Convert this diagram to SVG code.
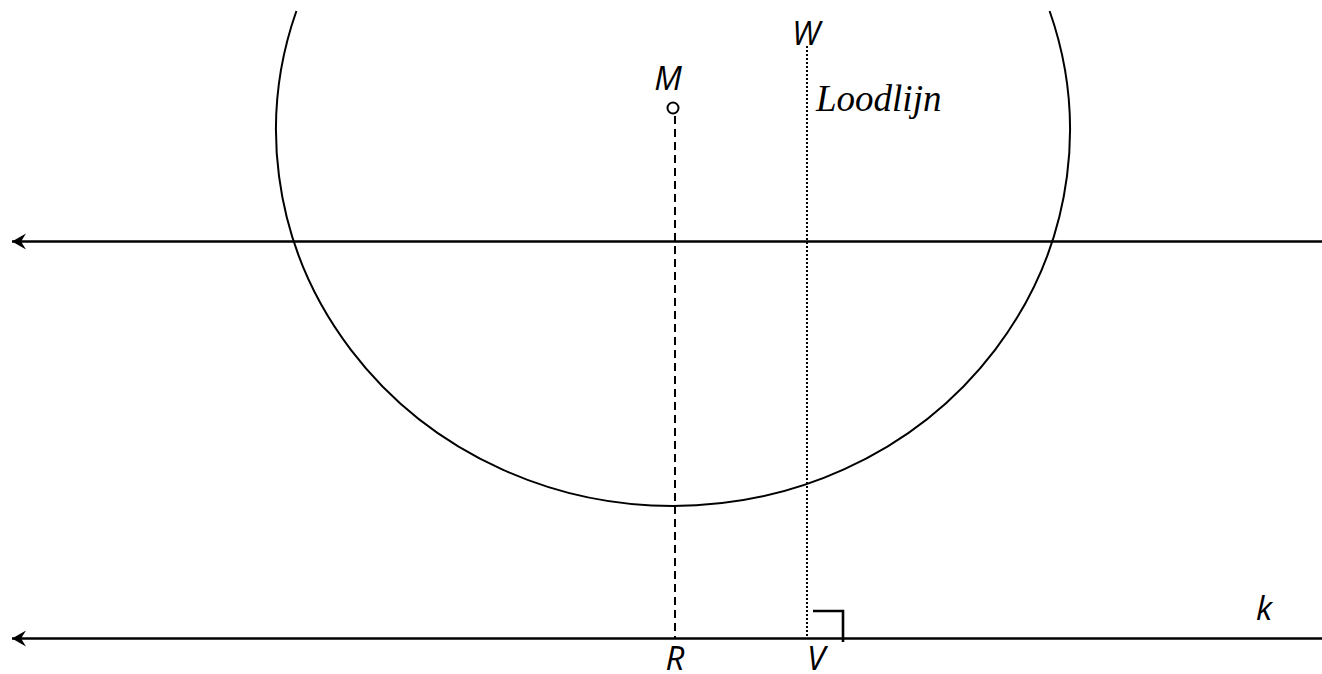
<svg xmlns="http://www.w3.org/2000/svg" width="1322" height="674" viewBox="0 0 1322 674">
<defs>
<style>
.lbl{font-family:"Open Sans","Liberation Sans",sans-serif;font-style:italic;font-size:33px;fill:#000}
.ser{font-family:"Liberation Serif","Times New Roman",serif;font-style:italic;font-size:37px;fill:#000}
.thick{stroke:#000;stroke-width:2.6;fill:none}
.thin{stroke:#000;stroke-width:2;fill:none}
</style>
<marker id="arr" markerUnits="userSpaceOnUse" markerWidth="20" markerHeight="20" viewBox="0 0 20 20" refX="19" refY="10" orient="auto">
<path d="M19 10 L5 2 L10 10 L5 18 Z" fill="#000"/>
</marker>
</defs>
<rect width="1322" height="674" fill="#fff"/>
<g id="circle">
<path class="thin" d="M296.4 11 A397 376 0 1 0 1049.6 11"/>
</g>
<g id="connectors">
<line class="thick" x1="1322" y1="241.5" x2="12" y2="241.5" marker-end="url(#arr)"/>
<line class="thick" x1="1322" y1="638.5" x2="12" y2="638.5" marker-end="url(#arr)"/>
<line class="thin" x1="675" y1="116" x2="675" y2="638" stroke-dasharray="8 5"/>
<line class="thin" x1="807" y1="46" x2="807" y2="638" stroke-dasharray="2 2"/>
<path class="thick" d="M813 611 H843 V642"/>
</g>
<g id="M">
<circle cx="673" cy="108" r="5.5" fill="#fff" stroke="#000" stroke-width="2"/>
<text class="lbl" x="668" y="90" text-anchor="middle">M</text>
</g>
<g id="W"><text class="lbl" x="806" y="45" text-anchor="middle">W</text></g>
<g id="Loodlijn"><text class="ser" x="816" y="111">Loodlijn</text></g>
<g id="R"><text class="lbl" x="675" y="670" text-anchor="middle">R</text></g>
<g id="V"><text class="lbl" x="816" y="670" text-anchor="middle">V</text></g>
<g id="k"><text class="lbl" x="1264" y="620" text-anchor="middle">k</text></g>
</svg>
